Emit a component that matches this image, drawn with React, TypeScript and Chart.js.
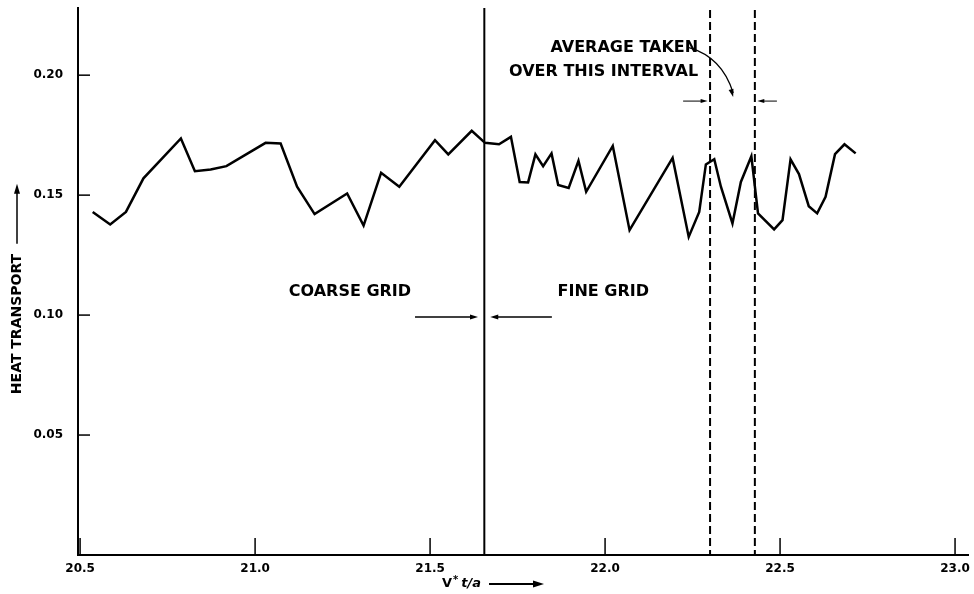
import React, { useEffect, useRef } from "react";
import { Chart, registerables } from "chart.js";

Chart.register(...registerables);

// ---- data ----
const TIME = [
  20.536, 20.586, 20.631, 20.681, 20.788, 20.828, 20.873, 20.918, 21.03, 21.073,
  21.12, 21.17, 21.263, 21.31, 21.36, 21.412, 21.514, 21.552, 21.619, 21.657,
  21.697, 21.731, 21.756, 21.78, 21.801, 21.823, 21.847, 21.866, 21.896, 21.924,
  21.946, 22.022, 22.07, 22.193, 22.239, 22.269, 22.288, 22.312, 22.331, 22.364,
  22.388, 22.418, 22.437, 22.483, 22.507, 22.53, 22.554, 22.582, 22.606, 22.63,
  22.657, 22.684, 22.716,
];
const HEAT = [
  0.143, 0.1378, 0.143, 0.157, 0.1736, 0.16, 0.1607, 0.1621, 0.1718, 0.1715,
  0.1535, 0.1421, 0.1507, 0.1373, 0.1593, 0.1535, 0.1729, 0.167, 0.1768, 0.1718,
  0.1712, 0.1743, 0.1555, 0.1553, 0.167, 0.1621, 0.1674, 0.1542, 0.153, 0.1643,
  0.1514, 0.1705, 0.1354, 0.1655, 0.1326, 0.143, 0.1628, 0.165, 0.1535, 0.1382,
  0.1555, 0.1662, 0.1424, 0.1357, 0.1396, 0.1649, 0.1588, 0.1454, 0.1424, 0.1493,
  0.1671, 0.1712, 0.1674,
];
const X_TICKS = [20.5, 21.0, 21.5, 22.0, 22.5, 23.0];
const Y_TICKS = [0.05, 0.1, 0.15, 0.2];
const GRID_SWITCH = 21.655; // coarse -> fine grid
const INTERVAL = [22.3, 22.428]; // averaging interval

const FONT = '"DejaVu Sans", sans-serif';

function arrowHead(ctx: CanvasRenderingContext2D, x: number, y: number, ang: number, len: number, wid: number) {
  ctx.save();
  ctx.translate(x, y);
  ctx.rotate(ang);
  ctx.beginPath();
  ctx.moveTo(0, 0);
  ctx.lineTo(-len, -wid / 2);
  ctx.lineTo(-len, wid / 2);
  ctx.closePath();
  ctx.fill();
  ctx.restore();
}

function hArrow(ctx: CanvasRenderingContext2D, x0: number, x1: number, y: number, lw: number, hl: number, hw: number) {
  ctx.lineWidth = lw;
  ctx.beginPath();
  ctx.moveTo(x0, y);
  ctx.lineTo(x1 - Math.sign(x1 - x0) * hl * 0.8, y);
  ctx.stroke();
  arrowHead(ctx, x1, y, x1 > x0 ? 0 : Math.PI, hl, hw);
}

const annotPlugin = {
  id: "annot",
  afterDraw(chart: any) {
    const { ctx, chartArea: a, scales } = chart;
    const xs = scales.x;
    const ys = scales.y;
    const px = (v: number) => xs.getPixelForValue(v);
    const py = (v: number) => ys.getPixelForValue(v);
    ctx.save();
    ctx.strokeStyle = "#000";
    ctx.fillStyle = "#000";

    // inward tick marks
    ctx.lineWidth = 1.5;
    Y_TICKS.forEach((v) => {
      ctx.beginPath();
      ctx.moveTo(a.left, py(v));
      ctx.lineTo(a.left + 12, py(v));
      ctx.stroke();
    });
    X_TICKS.forEach((v) => {
      ctx.beginPath();
      ctx.moveTo(px(v), a.bottom);
      ctx.lineTo(px(v), a.bottom - 17);
      ctx.stroke();
    });

    // solid vertical line: grid change
    ctx.lineWidth = 2;
    ctx.beginPath();
    ctx.moveTo(px(GRID_SWITCH), a.top);
    ctx.lineTo(px(GRID_SWITCH), a.bottom);
    ctx.stroke();

    // dashed interval lines
    ctx.setLineDash([8, 4]);
    INTERVAL.forEach((v) => {
      ctx.beginPath();
      ctx.moveTo(px(v), a.top + 2);
      ctx.lineTo(px(v), a.bottom);
      ctx.stroke();
    });
    ctx.setLineDash([]);

    // labels
    ctx.font = `bold 16px ${FONT}`;
    ctx.textBaseline = "middle";
    ctx.textAlign = "center";
    ctx.fillText("COARSE GRID", px(21.271), py(0.1096));
    ctx.fillText("FINE GRID", px(21.995), py(0.1096));
    ctx.textAlign = "right";
    ctx.fillText("AVERAGE TAKEN", px(22.266), py(0.2113));
    ctx.fillText("OVER THIS INTERVAL", px(22.266), py(0.2013));

    // grid-change arrows
    hArrow(ctx, px(21.457), px(21.637), py(0.0992), 1.5, 8, 5);
    hArrow(ctx, px(21.848), px(21.672), py(0.0992), 1.5, 8, 5);

    // interval arrows
    hArrow(ctx, px(22.223), px(22.293), py(0.1892), 1, 7, 4);
    hArrow(ctx, px(22.491), px(22.435), py(0.1892), 1, 7, 4);

    // curved pointer
    const sx = px(22.24), sy = py(0.2115);
    const cx = px(22.335), cy = py(0.2075);
    const ex = px(22.366), ey = py(0.1909);
    ctx.lineWidth = 1.3;
    ctx.beginPath();
    ctx.moveTo(sx, sy);
    ctx.quadraticCurveTo(cx, cy, ex, ey - 4);
    ctx.stroke();
    arrowHead(ctx, ex, ey, Math.atan2(ey - cy, ex - cx), 8, 5);

    // y axis title
    ctx.save();
    ctx.translate(17, 289);
    ctx.rotate(-Math.PI / 2);
    ctx.font = `bold 14px ${FONT}`;
    ctx.textAlign = "left";
    ctx.textBaseline = "middle";
    const yt = "HEAT TRANSPORT";
    const w = ctx.measureText(yt).width;
    const total = w + 10 + 60;
    const st = -total / 2;
    ctx.fillText(yt, st, 0);
    hArrow(ctx, st + w + 10, st + total, 0, 1.5, 10, 6);
    ctx.restore();

    // x axis title: V* t/a ->
    ctx.font = `bold 13px ${FONT}`;
    ctx.textAlign = "left";
    ctx.textBaseline = "middle";
    const tx = 442, ty = 584;
    ctx.fillText("V", tx, ty);
    const vw = ctx.measureText("V").width;
    ctx.font = `bold 10px ${FONT}`;
    ctx.fillText("*", tx + vw + 1, ty - 4);
    const sw = ctx.measureText("*").width;
    ctx.font = `italic bold 13px ${FONT}`;
    ctx.fillText("t/a", tx + vw + sw + 4, ty);
    const tw = ctx.measureText("t/a").width;
    const ax0 = tx + vw + sw + 4 + tw + 8;
    hArrow(ctx, ax0, ax0 + 55, ty, 1.8, 11, 7);

    ctx.restore();
  },
};

export default function App() {
  const ref = useRef<HTMLCanvasElement | null>(null);
  useEffect(() => {
    document.body.style.margin = "0";
    const canvas = ref.current;
    if (!canvas) return;
    const chart = new Chart(canvas, {
      type: "line",
      data: {
        datasets: [
          {
            data: TIME.map((t, i) => ({ x: t, y: HEAT[i] })),
            borderColor: "#000",
            borderWidth: 2.5,
            pointRadius: 0,
            tension: 0,
            fill: false,
          },
        ],
      },
      options: {
        animation: false,
        responsive: false,
        devicePixelRatio: 1,
        layout: { padding: { top: 8, right: 6, left: 0, bottom: 0 } },
        plugins: { legend: { display: false }, tooltip: { enabled: false } },
        scales: {
          x: {
            type: "linear",
            min: 20.494,
            max: 23.037,
            afterBuildTicks: (s: any) => {
              s.ticks = X_TICKS.map((v) => ({ value: v }));
            },
            afterFit: (s: any) => {
              s.height = 39;
              s.paddingLeft = 0;
              s.paddingRight = 0;
            },
            grid: { display: false, drawTicks: false },
            border: { display: true, color: "#000", width: 2 },
            ticks: {
              color: "#000",
              padding: 7,
              maxRotation: 0,
              autoSkip: false,
              font: { family: FONT, size: 12, weight: "bold" },
              callback: (v: any) => Number(v).toFixed(1),
            },
          },
          y: {
            type: "linear",
            min: 0,
            max: 0.228,
            afterBuildTicks: (s: any) => {
              s.ticks = Y_TICKS.map((v) => ({ value: v }));
            },
            afterFit: (s: any) => {
              s.width = 78;
              s.paddingTop = 0;
              s.paddingBottom = 0;
            },
            grid: { display: false, drawTicks: false },
            border: { display: true, color: "#000", width: 2 },
            ticks: {
              color: "#000",
              padding: 15,
              autoSkip: false,
              font: { family: FONT, size: 12, weight: "bold" },
              callback: (v: any) => Number(v).toFixed(2),
            },
          },
        },
      },
      plugins: [annotPlugin],
    });
    return () => chart.destroy();
  }, []);
  return <canvas ref={ref} width={974} height={594} style={{ display: "block" }} />;
}
